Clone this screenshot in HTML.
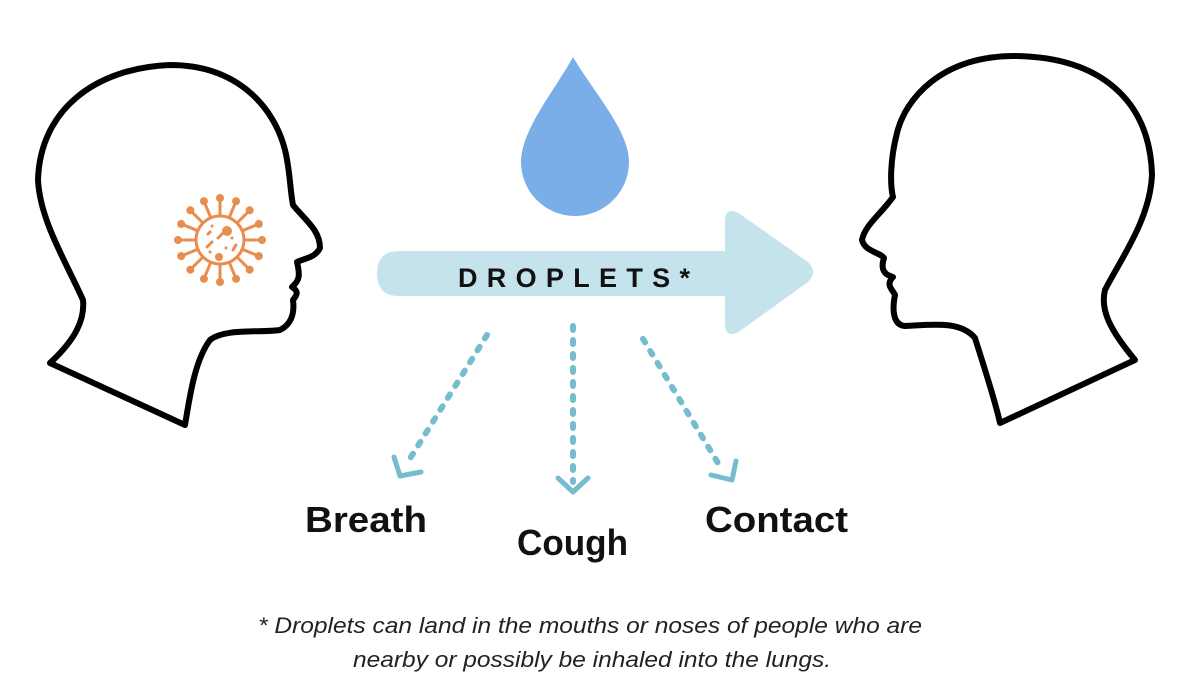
<!DOCTYPE html>
<html><head><meta charset="utf-8"><style>html,body{margin:0;padding:0;background:#fff}svg{display:block}</style></head>
<body>
<svg width="1190" height="694" viewBox="0 0 1190 694" xmlns="http://www.w3.org/2000/svg">
<rect width="1190" height="694" fill="#fff"/>
<!-- left head -->
<path d="M185,425 L50,363 C75,340 85,320 83,300 C65,260 40,220 38,180 C40,110 95,68 170,65 C240,65 275,110 285,150 C290,170 290,190 293,205 C305,220 320,230 320,248 C315,258 305,258 297,262 C300,275 300,280 292,287 C300,292 296,296 293,300 C295,315 290,325 280,330 C260,333 225,328 210,340 C195,360 190,395 185,425 Z" fill="none" stroke="#000" stroke-width="6" stroke-linejoin="round"/>
<!-- right head -->
<path d="M1000,423 L1135,360 C1110,330 1100,310 1105,290 C1120,260 1150,220 1152,175 C1150,100 1100,57 1015,56 C940,56 905,100 897,133 C890,160 890,185 893,197 C880,215 865,225 862,240 C865,252 880,252 884,258 C880,270 885,275 893,277 C885,285 893,290 895,295 C892,310 893,325 905,326 C930,325 960,320 975,338 C985,370 995,400 1000,423 Z" fill="none" stroke="#000" stroke-width="6" stroke-linejoin="round"/>
<!-- virus -->
<g fill="none" stroke="#e98d4f" stroke-width="3" stroke-linecap="round">
<circle cx="220" cy="240" r="24"/>
<g id="sp"><line x1="220" y1="216" x2="220" y2="199"/><circle cx="220" cy="198" r="2.5" fill="#e98d4f"/></g>
<use href="#sp" transform="rotate(22.5 220 240)"/><use href="#sp" transform="rotate(45 220 240)"/><use href="#sp" transform="rotate(67.5 220 240)"/><use href="#sp" transform="rotate(90 220 240)"/><use href="#sp" transform="rotate(112.5 220 240)"/><use href="#sp" transform="rotate(135 220 240)"/><use href="#sp" transform="rotate(157.5 220 240)"/><use href="#sp" transform="rotate(180 220 240)"/><use href="#sp" transform="rotate(202.5 220 240)"/><use href="#sp" transform="rotate(225 220 240)"/><use href="#sp" transform="rotate(247.5 220 240)"/><use href="#sp" transform="rotate(270 220 240)"/><use href="#sp" transform="rotate(292.5 220 240)"/><use href="#sp" transform="rotate(315 220 240)"/><use href="#sp" transform="rotate(337.5 220 240)"/>
<line x1="207" y1="247" x2="212" y2="242"/><line x1="218" y1="238" x2="223" y2="233"/><line x1="233" y1="250" x2="236" y2="245"/><line x1="208" y1="234" x2="210" y2="232"/>
</g>
<g fill="#e98d4f"><circle cx="227" cy="231" r="5"/><circle cx="219" cy="257" r="4"/><circle cx="212" cy="226" r="1.5"/><circle cx="232" cy="238" r="1.5"/><circle cx="210" cy="252" r="1.5"/><circle cx="226" cy="248" r="1.5"/></g>
<!-- drop -->
<path d="M573,57 C555,90 521,130 521,162 A54,54 0 0 0 629,162 C629,130 592,90 573,57 Z" fill="#7aaee8"/>
<!-- big arrow -->
<path d="M399,251 L725,251 L725,222 Q725,205 740,214 L808,262 Q818,272 808,282 L740,331 Q725,340 725,323 L725,296 L399,296 Q377,296 377,273.5 Q377,251 399,251 Z" fill="#c5e3ec"/>
<text x="458" y="287" font-family="Liberation Sans, sans-serif" font-weight="bold" font-size="27" textLength="232" lengthAdjust="spacing" fill="#111">DROPLETS*</text>
<!-- dotted -->
<g fill="none" stroke="#76bccf" stroke-width="6" stroke-linecap="round">
<path d="M487,335 L406,465" stroke-dasharray="4 10"/>
<path d="M573,326 L573,482" stroke-dasharray="4 10"/>
<path d="M643,339 L721,468" stroke-dasharray="4 10"/>
<path d="M394,457 L400,476 L421,472" stroke-width="5" stroke-linejoin="round"/>
<path d="M558,478 L573,492 L588,478" stroke-width="5" stroke-linejoin="round"/>
<path d="M736,461 L732,480 L711,475" stroke-width="5" stroke-linejoin="round"/>
</g>
<g font-family="Liberation Sans, sans-serif" font-weight="bold" font-size="36" fill="#111">
<text x="305" y="532" textLength="122" lengthAdjust="spacingAndGlyphs">Breath</text>
<text x="517" y="555" textLength="111" lengthAdjust="spacingAndGlyphs">Cough</text>
<text x="705" y="532" textLength="143" lengthAdjust="spacingAndGlyphs">Contact</text>
</g>
<g font-family="Liberation Sans, sans-serif" font-style="italic" font-size="22" fill="#222">
<text x="258" y="633" textLength="664" lengthAdjust="spacingAndGlyphs">* Droplets can land in the mouths or noses of people who are</text>
<text x="353" y="667" textLength="478" lengthAdjust="spacingAndGlyphs">nearby or possibly be inhaled into the lungs.</text>
</g>
</svg>
</body></html>
